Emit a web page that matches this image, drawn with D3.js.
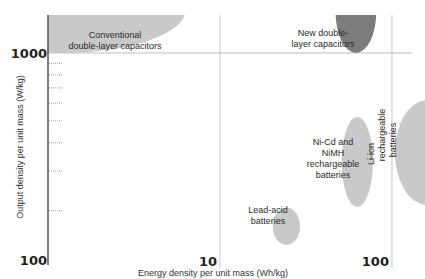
<!DOCTYPE html>
<html>
<head>
<meta charset="utf-8">
<script src="https://cdnjs.cloudflare.com/ajax/libs/d3/7.8.5/d3.min.js"></script>
<style>
  body { margin: 0; background: #fff; }
  svg text { font-family: "Liberation Sans", Arial, sans-serif; fill: #333; }
</style>
</head>
<body>
<div class="graph"></div>
<script>
// regions: energy range (Wh/kg) and output range (W/kg)
const regionNames = ["Conventional double-layer capacitors", "New double-layer capacitors",
                     "Lead-acid batteries", "Ni-Cd and NiMH rechargeable batteries", "Li-ion rechargeable batteries"];
const energyMin = [0.22, 47, 20.3, 51, 104];
const energyMax = [6.3, 81, 29.2, 77.5, 250];
const powerMin  = [1000, 1000, 141, 208, 212];
const powerMax  = [2400, 2300, 206, 521, 619];
const regionDark = [false, true, false, false, false];

// label lines for each region
const regionLabels = [
  ["Conventional", "double-layer capacitors"],
  ["New double-", "layer capacitors"],
  ["Lead-acid", "batteries"],
  ["Ni-Cd and", "NiMH", "rechargeable", "batteries"],
  ["Li-ion", "rechargeable", "batteries"]
];

const xTicks = [10, 100];
const xTickLabels = ["10", "100"];
const yTicks = [100, 1000];
const yTickLabels = ["100", "1000"];
const yMinorTicks = [200, 300, 400, 500, 600, 700, 800, 900];

const width = 425, height = 279;
const plotLeft = 48, plotTop = 15, plotBottom = 265, plotRight = 425;

const svg = d3.select(".graph").append("svg")
  .attr("width", width).attr("height", height);

const x = d3.scaleLog().domain([1, 155.6]).range([plotLeft, plotRight]);
const y = d3.scaleLog().domain([115, 1473]).range([plotBottom, plotTop]);
const yc = y.copy().clamp(true);

svg.append("defs").append("clipPath").attr("id", "plot")
  .append("rect").attr("x", plotLeft).attr("y", plotTop)
  .attr("width", plotRight - plotLeft).attr("height", plotBottom - plotTop);

// gridlines
svg.selectAll(".vgrid").data(xTicks).enter().append("line")
  .attr("x1", d => x(d)).attr("x2", d => x(d))
  .attr("y1", plotTop).attr("y2", plotBottom + 3)
  .attr("stroke", "#c8c8c8").attr("stroke-width", 1);

svg.append("line")
  .attr("x1", plotLeft).attr("x2", 412)
  .attr("y1", y(1000)).attr("y2", y(1000))
  .attr("stroke", "#bdbdbd").attr("stroke-width", 1);

// regions as ellipses in log space
const regions = regionNames.map((name, i) => ({
  name: name, e0: energyMin[i], e1: energyMax[i], p0: powerMin[i], p1: powerMax[i],
  dark: regionDark[i], lines: regionLabels[i]
}));

svg.append("g").attr("clip-path", "url(#plot)")
  .selectAll("ellipse").data(regions).enter().append("ellipse")
  .attr("cx", d => (x(d.e0) + x(d.e1)) / 2)
  .attr("cy", d => (y(d.p0) + y(d.p1)) / 2)
  .attr("rx", d => (x(d.e1) - x(d.e0)) / 2)
  .attr("ry", d => (y(d.p0) - y(d.p1)) / 2)
  .attr("fill", d => d.dark ? "#7c7c7c" : "#c9c9c9");

// y axis line and minor ticks
svg.append("line")
  .attr("x1", plotLeft).attr("x2", plotLeft).attr("y1", plotTop).attr("y2", plotBottom)
  .attr("stroke", "#555").attr("stroke-width", 1.5);

svg.selectAll(".minor").data(yMinorTicks).enter().append("line")
  .attr("x1", plotLeft + 1).attr("x2", plotLeft + 14)
  .attr("y1", d => y(d)).attr("y2", d => y(d))
  .attr("stroke", "#999").attr("stroke-width", 1).attr("stroke-dasharray", "1,1");

// tick labels
svg.selectAll(".ylab").data(yTicks).enter().append("text")
  .attr("x", plotLeft - 1).attr("y", d => Math.min(yc(d) + 5, plotBottom))
  .attr("text-anchor", "end")
  .style("font-family", "'DejaVu Sans', sans-serif")
  .style("font-size", "13px").style("font-weight", "bold").style("fill", "#222")
  .text((d, i) => yTickLabels[i]);

svg.selectAll(".xlab").data(xTicks).enter().append("text")
  .attr("x", d => x(d) - 3).attr("y", 266)
  .attr("text-anchor", "end")
  .style("font-family", "'DejaVu Sans', sans-serif")
  .style("font-size", "13px").style("font-weight", "bold").style("fill", "#222")
  .text((d, i) => xTickLabels[i]);

// axis titles
svg.append("text")
  .attr("x", 213).attr("y", 276).attr("text-anchor", "middle")
  .style("font-size", "9px")
  .text("Energy density per unit mass (Wh/kg)");

svg.append("text")
  .attr("transform", "translate(23,147) rotate(-90)").attr("text-anchor", "middle")
  .style("font-size", "9px")
  .text("Output density per unit mass (W/kg)");

// region labels: anchor point and per-line shift along the text direction
const labelPos = [
  { x: 115, y: 38, rot: false, shift: [0, 0] },
  { x: 323, y: 36, rot: false, shift: [0, 0] },
  { x: 268, y: 213, rot: false, shift: [0, 0] },
  { x: 333, y: 145, rot: false, shift: [0, 0, 0, 0] },
  { x: 374, y: 140, rot: true, shift: [-14, 5, 0] }
];

regions.forEach((d, i) => {
  const p = labelPos[i];
  const g = svg.append("g")
    .attr("transform", p.rot ? `translate(${p.x},${p.y}) rotate(-90)` : `translate(${p.x},${p.y})`);
  g.selectAll("text").data(d.lines).enter().append("text")
    .attr("x", (t, j) => p.shift[j]).attr("y", (t, j) => j * 11)
    .attr("text-anchor", "middle")
    .style("font-size", "9px").style("fill", "#2a2a2a")
    .text(t => t);
});
</script>
</body>
</html>
